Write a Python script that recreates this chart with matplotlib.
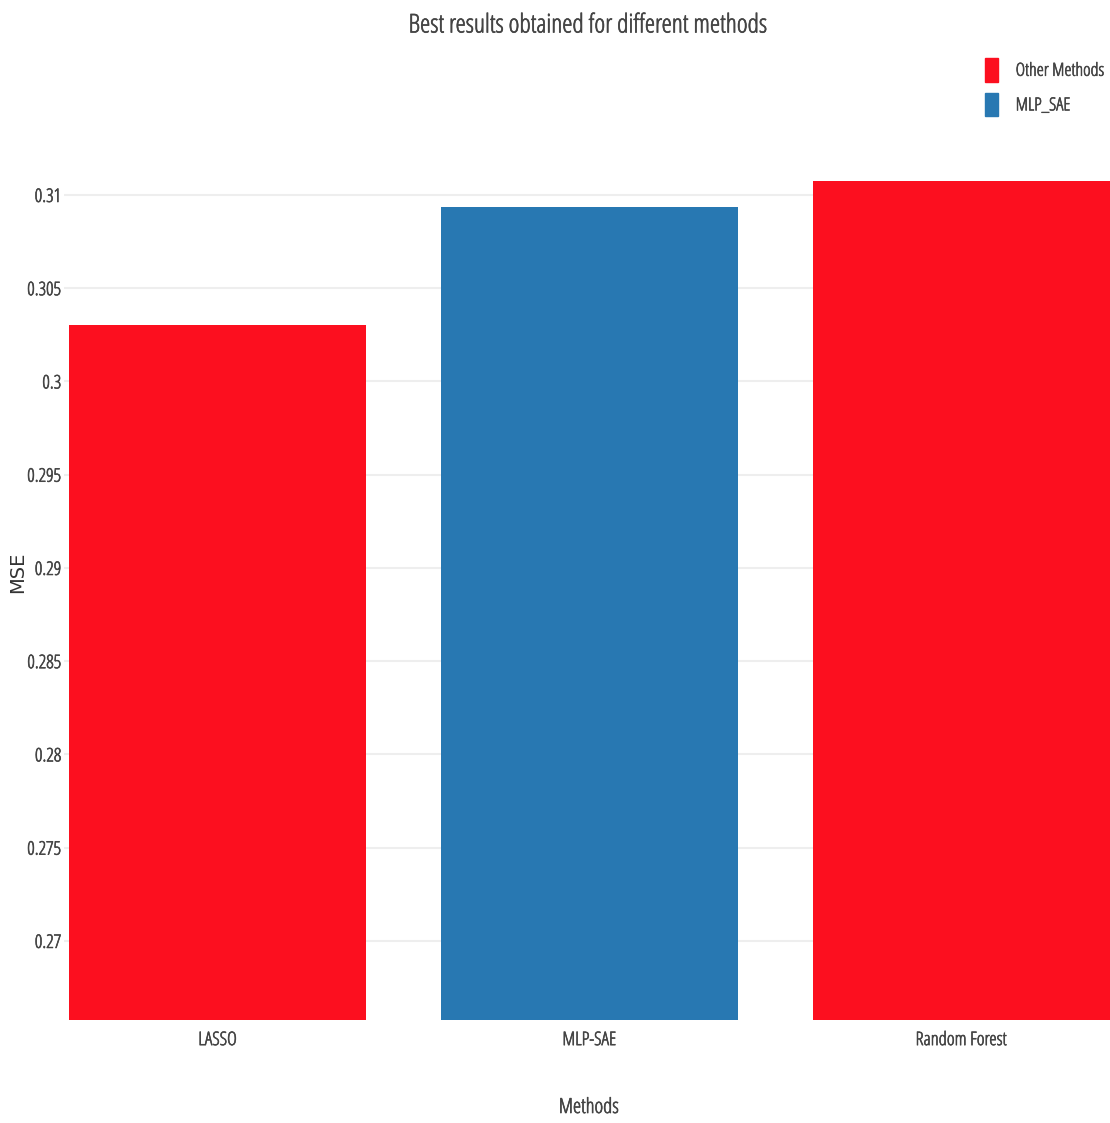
import matplotlib
matplotlib.use("Agg")
import os
import matplotlib.pyplot as plt
import matplotlib.patheffects as pe
from matplotlib import font_manager
from matplotlib.patches import Patch
from matplotlib.text import Text

# Data
methods = ["LASSO", "MLP-SAE", "Random Forest"]
mse = [0.30303, 0.30936, 0.3110]
groups = ["Other Methods", "MLP_SAE", "Other Methods"]
y_ticks = [0.27, 0.275, 0.28, 0.285, 0.29, 0.295, 0.3, 0.305, 0.31]
y_tick_labels = ["0.27", "0.275", "0.28", "0.285", "0.29", "0.295", "0.3", "0.305", "0.31"]

colors = {"Other Methods": "#fc0f1f", "MLP_SAE": "#2878b2"}


def condensed_font():
    """Regular-weight condensed Open Sans if present, else another condensed sans."""
    def wt(f):
        try:
            return int(f.weight)
        except (TypeError, ValueError):
            return 400
    best, score = None, None
    for f in font_manager.fontManager.ttflist:
        if f.style != "normal":
            continue
        name = f.name.lower()
        base = os.path.basename(f.fname).lower()
        cond = "cond" in name or "cond" in base or f.stretch == "condensed"
        if not cond:
            continue
        if "open sans" in name or "opensans" in base:
            rank = 0
        elif "barlow semi" in name:
            rank = 1
        else:
            continue
        s = (rank, abs(wt(f) - 400))
        if score is None or s < score:
            best, score = f, s
    return best


cf = condensed_font()
if cf is not None:
    plt.rcParams["font.family"] = [cf.name, "DejaVu Sans"]
    plt.rcParams["font.weight"] = cf.weight
    plt.rcParams["font.stretch"] = cf.stretch

text_color = "#444444"

fig = plt.figure(figsize=(11.10, 11.23), dpi=100)
ax = fig.add_axes([64 / 1110, 103 / 1123, 1 - 64 / 1110, 839 / 1123])

x = range(len(methods))
ax.bar(x, mse, width=0.8, color=[colors[g] for g in groups], zorder=2)

ax.set_xlim(-0.413, 2.4)
ax.set_ylim(0.26576, 0.31075)

ax.set_yticks(y_ticks)
ax.set_yticklabels(y_tick_labels)
ax.set_xticks(list(x))
ax.set_xticklabels(methods)
ax.tick_params(axis="y", length=0, pad=2, labelsize=13.5, labelcolor=text_color)
ax.tick_params(axis="x", length=0, pad=8, labelsize=13.5, labelcolor=text_color)

ax.grid(axis="y", color="#eeeeee", linewidth=1.5, zorder=0)
ax.set_axisbelow(True)
for s in ax.spines.values():
    s.set_visible(False)

fig.text(589 / 1110, 1 - 26 / 1123, "Best results obtained for different methods",
         ha="center", va="center", fontsize=18.7, color=text_color)
fig.text(589 / 1110, 1 - 1108 / 1123, "Methods",
         ha="center", va="center", fontsize=15, color=text_color)

handles = [Patch(color=colors["Other Methods"], label="Other Methods"),
           Patch(color=colors["MLP_SAE"], label="MLP_SAE")]
leg = fig.legend(handles=handles, loc="upper left",
                 bbox_to_anchor=(985 / 1110, 1 - 58 / 1123),
                 frameon=False, fontsize=13, handlelength=0.7, handleheight=1.65,
                 handletextpad=1.0, labelspacing=0.6, borderpad=0, borderaxespad=0)
for t in leg.get_texts():
    t.set_color(text_color)

# light condensed face is a touch thin, give the strokes some body
for t in fig.findobj(Text):
    t.set_path_effects([pe.withStroke(linewidth=0.45, foreground=text_color)])

fig.text(18 / 1110, 1 - 572 / 1123, "MSE", rotation=90,
         ha="center", va="center", fontsize=14, color="#333333",
         family="DejaVu Sans", fontweight="normal", fontstretch="normal")

fig.savefig("out.png", dpi=100, facecolor="white")
